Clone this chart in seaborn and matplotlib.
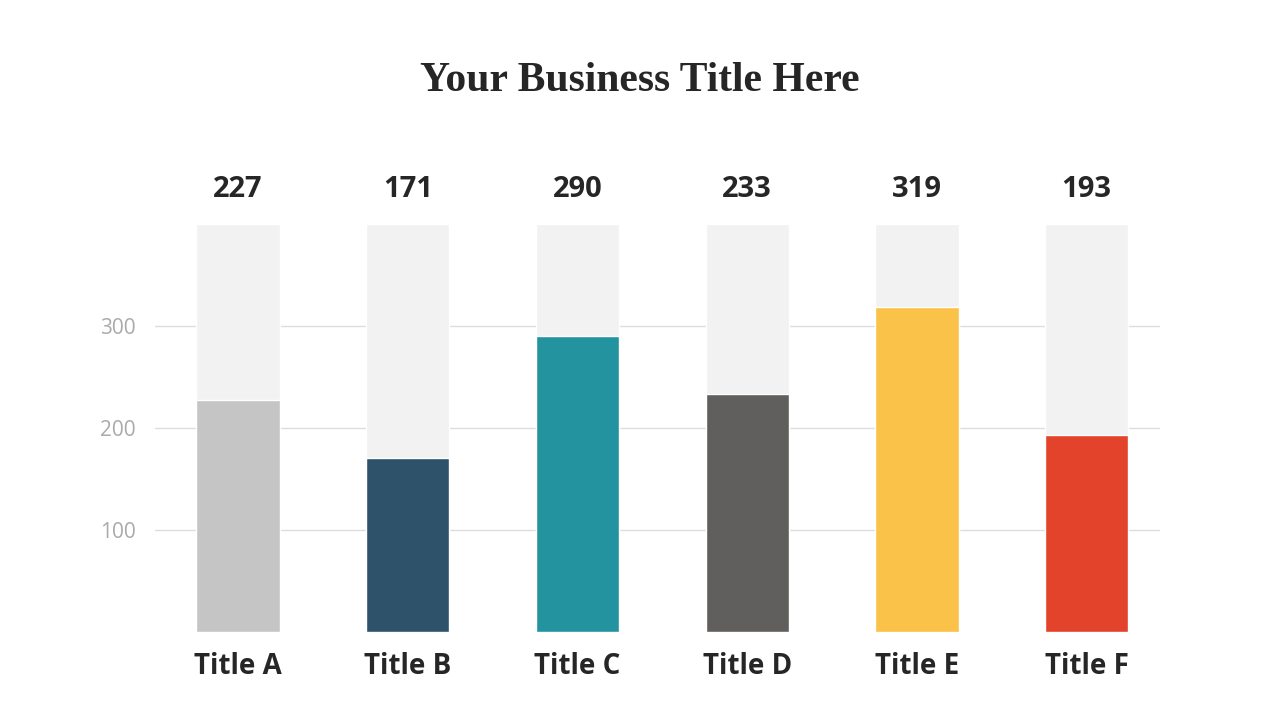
import pandas as pd
import seaborn as sns
import matplotlib.pyplot as plt

# Data
categories = ['Title A', 'Title B', 'Title C', 'Title D', 'Title E', 'Title F']
values = [227, 171, 290, 233, 319, 193]
max_value = 400
colors = ['#c4c5c4', '#2f526b', '#2493a0', '#605f5d', '#fac248', '#e2432a']

df = pd.DataFrame({'category': categories, 'value': values,
                   'max': [max_value] * len(categories)})

sns.set_style('white')
plt.rcParams['font.family'] = ['Open Sans', 'DejaVu Sans']

fig = plt.figure(figsize=(12.8, 7.2), dpi=100)
ax = fig.add_axes([0.121, 0.122, 0.785, 0.567])

ax.yaxis.grid(True, color='#dddddd', linewidth=1)
ax.set_axisbelow(True)

# Background track bars
sns.barplot(data=df, x='category', y='max', color='#f2f2f2', width=0.49,
            saturation=1, ax=ax, zorder=2)
# Value bars
sns.barplot(data=df, x='category', y='value', hue='category', palette=colors,
            width=0.49, saturation=1, legend=False, ax=ax, zorder=3)

ax.set_ylim(0, max_value)
ax.set_xlim(-0.49, 5.43)
ax.set_yticks([100, 200, 300])
ax.tick_params(axis='y', labelsize=15, labelcolor='#aaaaaa', length=0, pad=14)
ax.tick_params(axis='x', labelsize=20, length=0, pad=14)
for lbl in ax.get_xticklabels():
    lbl.set_fontweight('bold')
ax.set_xlabel('')
ax.set_ylabel('')
sns.despine(ax=ax, left=True, bottom=True)

for i, v in enumerate(values):
    ax.text(i, max_value + 20, str(v), ha='center', va='bottom',
            fontsize=21, fontweight='bold')

fig.text(0.5, 0.888, 'Your Business Title Here', ha='center', va='center',
         fontsize=30, fontweight='bold', family=['Liberation Serif', 'DejaVu Serif'])

fig.savefig('out.png', dpi=100)
